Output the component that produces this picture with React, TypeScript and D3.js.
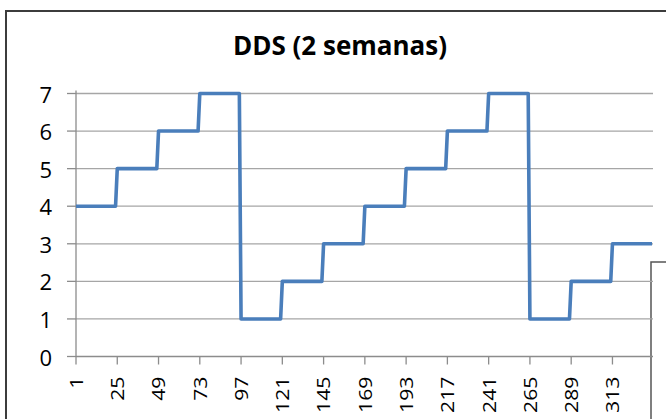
import React from "react";
import * as d3 from "d3";

// Day-of-week value for each of the 14 days (each day = 24 hourly points)
const dayValues: number[] = [4, 5, 6, 7, 1, 2, 3, 4, 5, 6, 7, 1, 2, 3];
const hoursPerDay = 24;
const yTicks: number[] = [0, 1, 2, 3, 4, 5, 6, 7];
const xTickLabels: number[] = [1, 25, 49, 73, 97, 121, 145, 169, 193, 217, 241, 265, 289, 313];
const title = "DDS (2 semanas)";

const series: { cat: number; value: number }[] = [];
dayValues.forEach((v, d) => {
  for (let h = 0; h < hoursPerDay; h++) {
    series.push({ cat: d * hoursPerDay + h + 1, value: v });
  }
});

const W = 666;
const H = 419;
const left = 76;
const right = 652;
const top = 93.5;
const bottom = 356.5;
const FONT = "'Open Sans', 'Noto Sans', sans-serif";

export default function App() {
  const x = d3.scaleLinear().domain([1, series.length]).range([left, right]);
  const y = d3.scaleLinear().domain([0, 7]).range([bottom, top]);
  const line = d3
    .line<{ cat: number; value: number }>()
    .x((d) => x(d.cat))
    .y((d) => y(d.value));

  return (
    <svg
      width={W}
      height={H}
      style={{ position: "absolute", left: 0, top: 0, background: "#fff" }}
    >
      {/* outer chart border */}
      <path d={`M6,${H} V11 H${W}`} fill="none" stroke="#3c3c3c" strokeWidth={2} />
      {/* neighbouring chart border */}
      <path d={`M651,${H} V262 H${W}`} fill="none" stroke="#555" strokeWidth={1.5} />

      <text
        x={340}
        y={55}
        textAnchor="middle"
        fontFamily={FONT}
        fontWeight="bold"
        fontSize={26}
        fill="#000"
      >
        {title}
      </text>

      {/* gridlines */}
      {yTicks.map((t) =>
        t === 0 ? null : (
          <line
            key={"g" + t}
            x1={left}
            x2={right + 1}
            y1={y(t)}
            y2={y(t)}
            stroke="#a6a6a6"
            strokeWidth={1.3}
          />
        )
      )}

      {/* y axis */}
      <line x1={left} x2={left} y1={top - 3} y2={bottom} stroke="#8c8c8c" strokeWidth={1.3} />
      {yTicks.map((t) => (
        <g key={"y" + t}>
          <line x1={left - 9} x2={left} y1={y(t)} y2={y(t)} stroke="#8c8c8c" strokeWidth={1.3} />
          <text
            x={52}
            y={y(t)}
            textAnchor="end"
            dominantBaseline="central"
            fontFamily={FONT}
            fontSize={22}
            fill="#000"
          >
            {t}
          </text>
        </g>
      ))}

      {/* x axis */}
      <line x1={left} x2={right + 1} y1={bottom} y2={bottom} stroke="#8c8c8c" strokeWidth={1.3} />
      {xTickLabels.map((c) => (
        <g key={"x" + c}>
          <line x1={x(c)} x2={x(c)} y1={bottom} y2={bottom + 8} stroke="#8c8c8c" strokeWidth={1.3} />
          <text
            transform={`translate(${x(c)},${bottom + 20}) rotate(-90) scale(1.18,1)`}
            textAnchor="end"
            dominantBaseline="central"
            fontFamily={FONT}
            fontSize={18}
            fill="#000"
          >
            {c}
          </text>
        </g>
      ))}

      {/* series */}
      <path
        d={line(series) || ""}
        fill="none"
        stroke="#4a7ebb"
        strokeWidth={3.6}
        strokeLinejoin="round"
      />
    </svg>
  );
}
